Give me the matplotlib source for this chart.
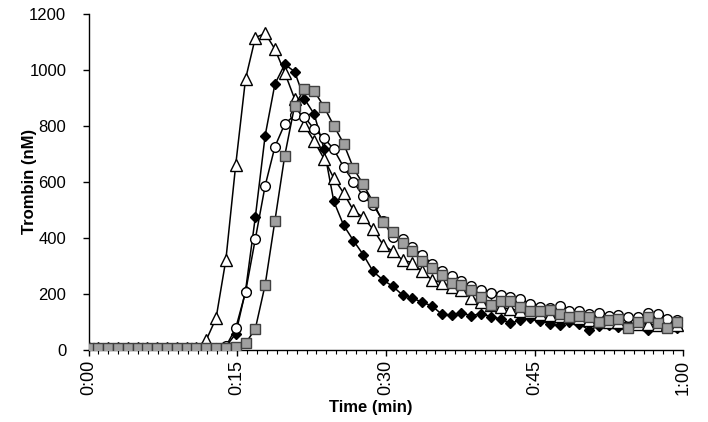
import numpy as np
import matplotlib
matplotlib.use('Agg')
import matplotlib.pyplot as plt
from matplotlib.ticker import FixedLocator, MultipleLocator

# sampling: one reading roughly every minute, 61 readings
sample_interval_min = 0.99
n_samples = 61

# thrombin (nM)
open_triangle = [
    5, 5, 5, 5, 5, 5, 5, 5, 5, 5, 5, 8, 35, 113, 322, 660, 967, 1115, 1131, 1074,
    990, 897, 802, 745, 683, 613, 560, 498, 473, 431, 376, 352, 321, 311, 280, 250,
    240, 226, 213, 186, 172, 160, 152, 146, 140, 134, 128, 124, 120, 116, 112, 108,
    105, 101, 99, 96, 94, 92, 90, 91, 89
]
black_diamond = [
    5, 5, 5, 5, 5, 5, 5, 5, 5, 5, 5, 5, 5, 5, 12, 57, 210, 474, 765, 950,
    1020, 994, 897, 842, 718, 530, 445, 390, 340, 280, 250, 227, 196, 185, 170, 157,
    127, 124, 132, 122, 129, 119, 110, 95, 106, 112, 104, 94, 89, 100, 93, 71,
    85, 88, 80, 90, 95, 72, 85, 80, 78
]
open_circle = [
    5, 5, 5, 5, 5, 5, 5, 5, 5, 5, 5, 5, 5, 5, 12, 77, 206, 396, 586, 726,
    807, 838, 833, 788, 757, 716, 653, 601, 548, 518, 462, 404, 395, 366, 339, 308,
    283, 262, 245, 229, 214, 203, 196, 188, 180, 164, 152, 150, 155, 137, 138, 128,
    131, 121, 124, 119, 116, 130, 129, 110, 105
]
grey_square = [
    5, 5, 5, 5, 5, 5, 5, 5, 5, 5, 5, 5, 5, 5, 5, 10, 23, 75, 232, 462,
    694, 871, 933, 925, 868, 801, 737, 649, 591, 528, 456, 421, 383, 353, 319, 293,
    268, 240, 232, 215, 190, 161, 176, 176, 153, 140, 137, 141, 128, 118, 122, 116,
    98, 105, 110, 77, 100, 119, 95, 79, 98
]

x_tick_minutes = [0, 15, 30, 45, 60]
x_tick_labels = ['0:00', '0:15', '0:30', '0:45', '1:00']
y_ticks = [0, 200, 400, 600, 800, 1000, 1200]

time_min = np.arange(n_samples) * sample_interval_min

plt.rcParams['font.family'] = ['Liberation Sans', 'DejaVu Sans']

fig = plt.figure(figsize=(7.08, 4.22), dpi=100)
ax = fig.add_axes([0.125, 0.171, 0.840, 0.796])

line_kw = dict(color='black', linewidth=1.1)

ax.plot(time_min, black_diamond, marker='D', markersize=5.5,
        markerfacecolor='black', markeredgecolor='black', zorder=2, **line_kw)
ax.plot(time_min, open_triangle, marker='^', markersize=8.5,
        markerfacecolor='white', markeredgecolor='black', markeredgewidth=1.0,
        zorder=3, **line_kw)
ax.plot(time_min, open_circle, marker='o', markersize=7,
        markerfacecolor='white', markeredgecolor='black', markeredgewidth=1.0,
        zorder=4, **line_kw)
ax.plot(time_min, grey_square, marker='s', markersize=7,
        markerfacecolor='#a0a0a0', markeredgecolor='#404040', markeredgewidth=1.0,
        zorder=5, **line_kw)

ax.set_xlim(0, 60)
ax.set_ylim(0, 1200)

ax.xaxis.set_major_locator(FixedLocator(x_tick_minutes))
ax.set_xticklabels(x_tick_labels, rotation=90)
ax.xaxis.set_minor_locator(MultipleLocator(1))
ax.set_yticks(y_ticks)

ax.spines['top'].set_visible(False)
ax.spines['right'].set_visible(False)
for side in ('left', 'bottom'):
    ax.spines[side].set_linewidth(1.0)

ax.tick_params(axis='both', which='major', direction='out', length=4,
               width=1.0, labelsize=12)
ax.tick_params(axis='x', which='minor', direction='out', length=3, width=0.8)
ax.tick_params(axis='x', which='major', pad=3, labelsize=13)
ax.tick_params(axis='y', which='major', pad=12)

ax.set_xlabel('Time (min)', fontsize=12, fontweight='bold')
ax.set_ylabel('Trombin (nM)', fontsize=12, fontweight='bold')
ax.xaxis.set_label_coords(0.475, -0.148)
ax.yaxis.set_label_coords(-0.087, 0.5)

fig.savefig('out.png', dpi=100)
